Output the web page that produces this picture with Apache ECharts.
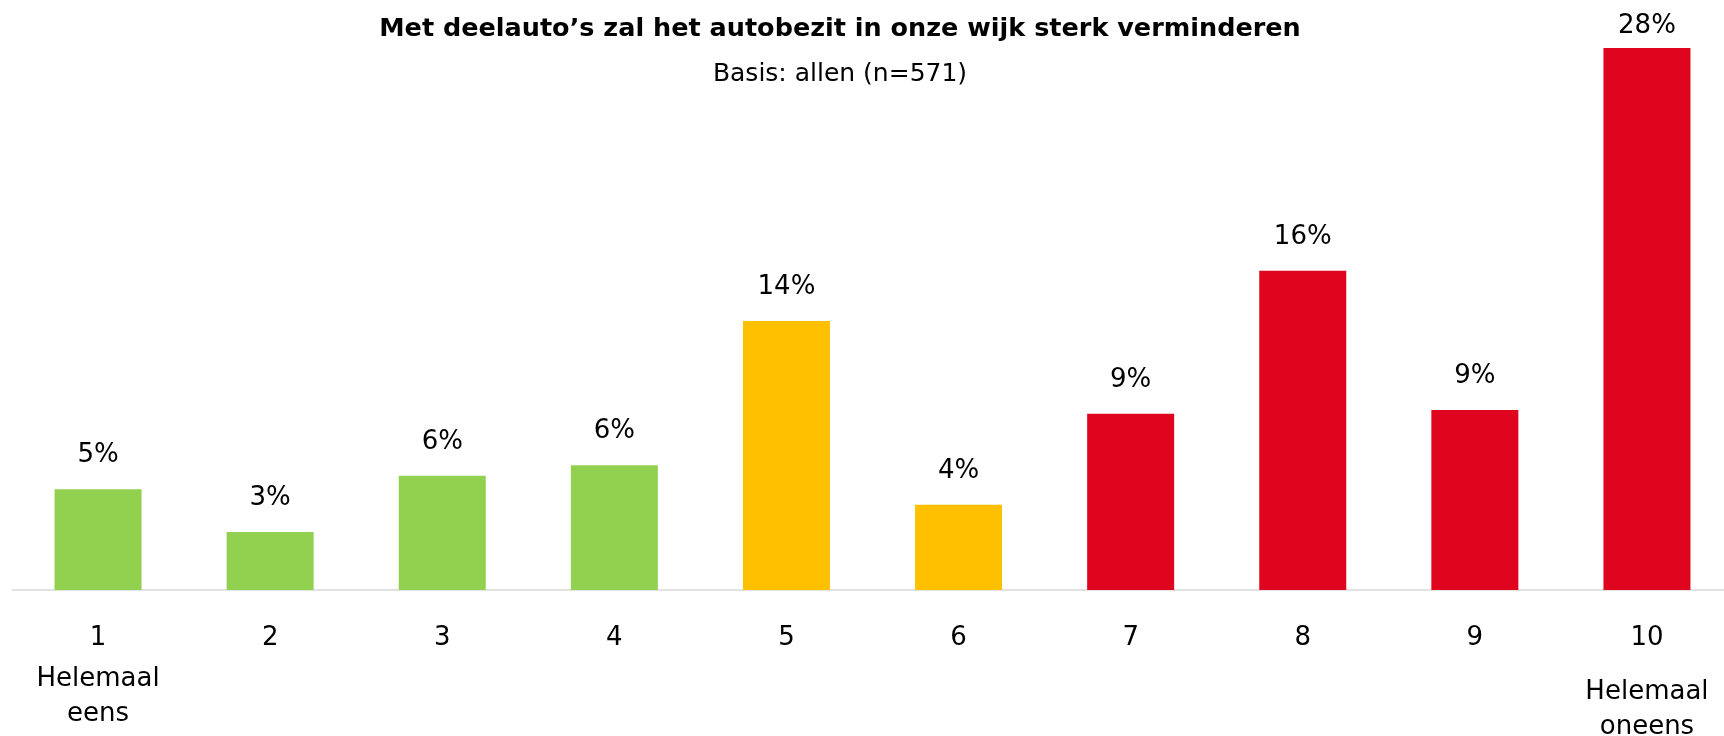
<!DOCTYPE html>
<html>
<head>
<meta charset="utf-8">
<script src="https://cdn.jsdelivr.net/npm/echarts@6/dist/echarts.min.js"></script>
<style>
html,body{margin:0;padding:0;background:#fff;}
#chart{width:1724px;height:736px;}
</style>
</head>
<body>
<div id="chart"></div>
<script>
var titleText = 'Met deelauto\u2019s zal het autobezit in onze wijk sterk verminderen';
var subtitleText = 'Basis: allen (n=571)';
var categories = ['1', '2', '3', '4', '5', '6', '7', '8', '9', '10'];
var endLabels = {0: ['Helemaal', 'eens'], 9: ['Helemaal', 'oneens']};
var values = [5.2, 3.0, 5.9, 6.45, 13.9, 4.4, 9.1, 16.49, 9.3, 28.0];
var colorGroups = ['green', 'green', 'green', 'green', 'yellow', 'yellow', 'red', 'red', 'red', 'red'];

var palette = {green: '#92D050', yellow: '#FFC000', red: '#DF051E'};
var maxVal = Math.max.apply(null, values);

var data = values.map(function (v, i) {
  var item = {value: v, itemStyle: {color: palette[colorGroups[i]]}};
  if (v === maxVal) item.label = {distance: 9};
  return item;
});

var chart = echarts.init(document.getElementById('chart'));
chart.setOption({
  animation: false,
  backgroundColor: '#ffffff',
  title: [
    {text: titleText, left: 835, top: 11, textAlign: 'center',
     textStyle: {fontFamily: 'DejaVu Sans', fontWeight: 'bold', fontSize: 25.5, color: '#000'}},
    {text: subtitleText, left: 835, top: 57, textAlign: 'center',
     textStyle: {fontFamily: 'DejaVu Sans', fontWeight: 'normal', fontSize: 25, color: '#000'}}
  ],
  grid: {left: 12, top: 48, width: 1721, height: 542, containLabel: false, outerBoundsMode: 'none'},
  xAxis: {
    type: 'category',
    data: categories,
    axisLine: {show: true, lineStyle: {color: '#D9D9D9', width: 1.5}},
    axisTick: {show: false},
    axisLabel: {
      interval: 0,
      margin: 31,
      formatter: function (val, idx) {
        var s = '{n|' + val + '}';
        if (endLabels[idx]) {
          s += '\n{' + (idx === 0 ? 's1' : 's2') + '| }';
          endLabels[idx].forEach(function (t) { s += '\n{t|' + t + '}'; });
        }
        return s;
      },
      rich: {
        n: {fontFamily: 'DejaVu Sans', fontSize: 26, lineHeight: 35, color: '#000'},
        t: {fontFamily: 'DejaVu Sans', fontSize: 26, lineHeight: 35, color: '#000'},
        s1: {fontSize: 4, lineHeight: 6},
        s2: {fontSize: 4, lineHeight: 19}
      }
    }
  },
  yAxis: {type: 'value', min: 0, max: 28, show: false, splitLine: {show: false}},
  series: [{
    type: 'bar',
    data: data,
    barWidth: 87,
    label: {
      show: true,
      position: 'top',
      distance: 21,
      fontFamily: 'DejaVu Sans',
      fontSize: 26,
      color: '#000',
      formatter: function (p) { return Math.round(p.value) + '%'; }
    }
  }]
});
</script>
</body>
</html>
